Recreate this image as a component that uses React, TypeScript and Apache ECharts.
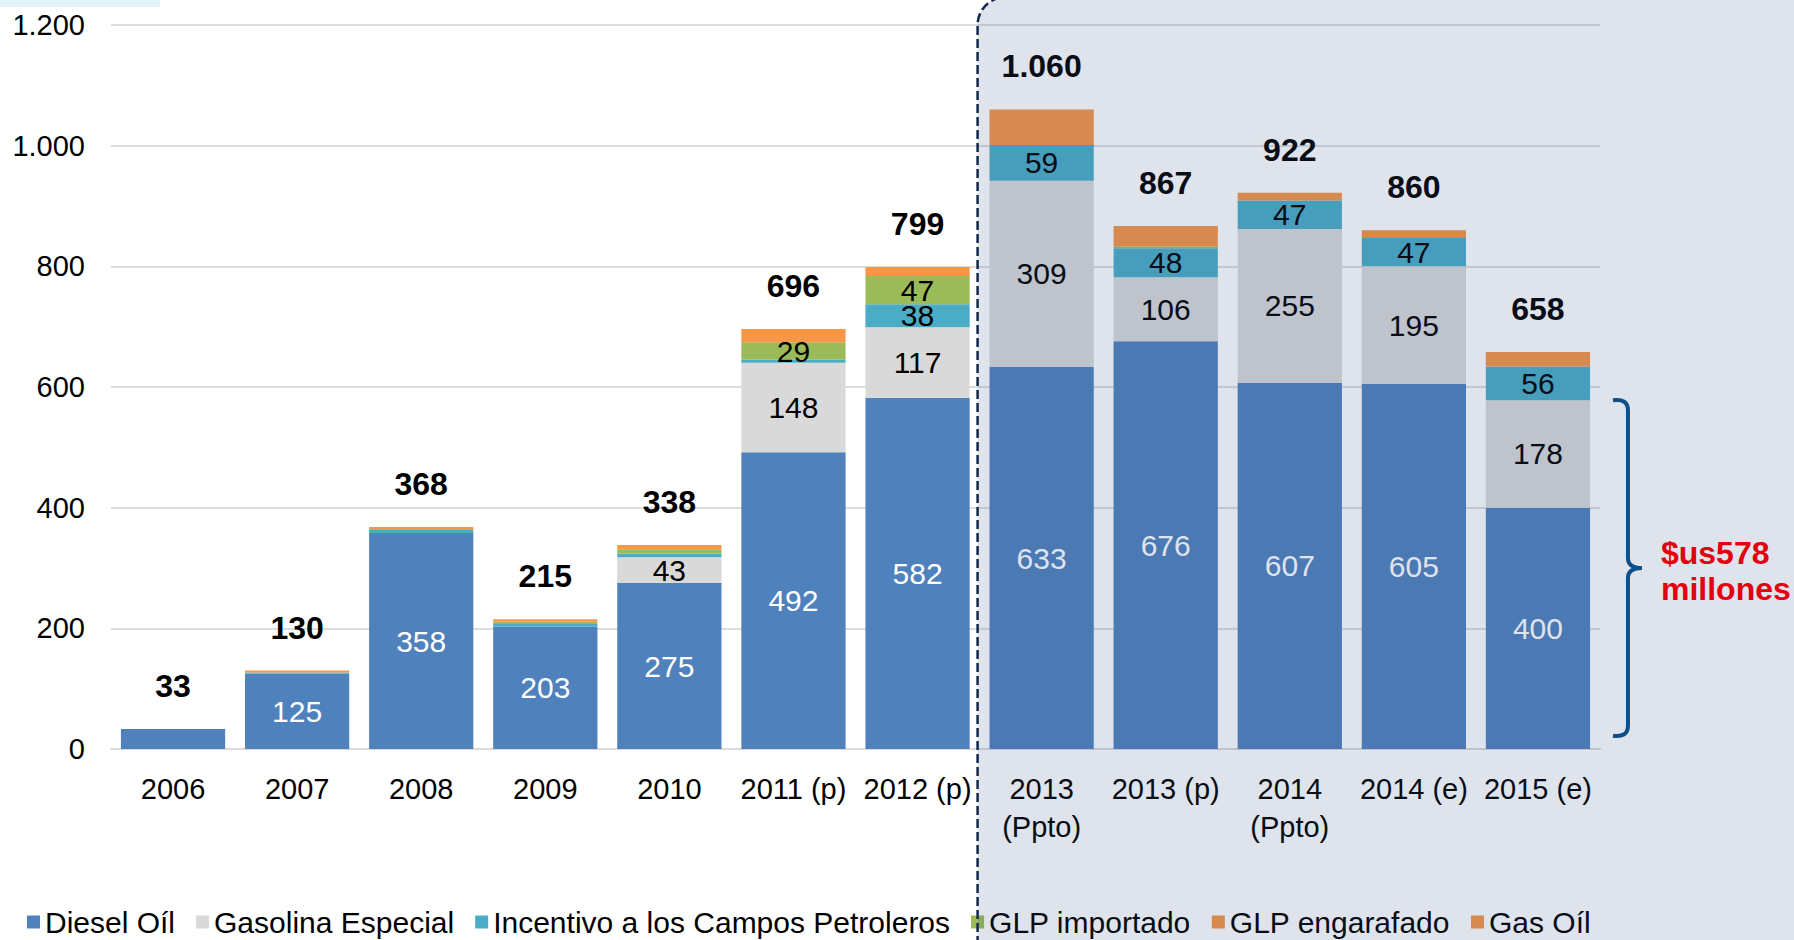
import React, { useEffect, useRef } from 'react';
import * as echarts from 'echarts';

const categories = ['2006', '2007', '2008', '2009', '2010', '2011 (p)', '2012 (p)', '2013\n(Ppto)', '2013 (p)', '2014\n(Ppto)', '2014 (e)', '2015 (e)'];
const dieselOil = [33, 125, 358, 203, 275, 492, 582, 633, 676, 607, 605, 400];
const gasolinaEspecial = [0, 0, 0, 0, 43, 148, 117, 309, 106, 255, 195, 178];
const incentivoCampos = [0, 2, 5, 4, 6, 5, 38, 59, 48, 47, 47, 56];
const glpImportado = [0, 0, 0, 4, 7, 29, 47, 0, 3, 0, 0, 0];
const glpEngarafado = [0, 3, 5, 4, 7, 22, 15, 59, 34, 13, 13, 24];
const gasOil = [0, 0, 0, 0, 0, 0, 0, 0, 0, 0, 0, 0];
const totals = [33, 130, 368, 215, 338, 696, 799, 1060, 867, 922, 860, 658];
const seriesNames = ['Diesel Oíl', 'Gasolina Especial', 'Incentivo a los Campos Petroleros', 'GLP importado', 'GLP engarafado', 'Gas Oíl'];
const annotationText = '$us578\nmillones';

const FONT = "'Liberation Sans', Arial, sans-serif";

const fmt = (n: number) =>
  n >= 1000 ? Math.floor(n / 1000) + '.' + String(n % 1000).padStart(3, '0') : String(n);

export default function App() {
  const ref = useRef<HTMLDivElement>(null);

  useEffect(() => {
    if (!ref.current) return;
    const chart = echarts.init(ref.current, null, { renderer: 'svg' });

    const mk = (name: string, data: number[], color: string, threshold: number | null, labelColor: string) => ({
      name,
      type: 'bar',
      stack: 'total',
      data,
      barCategoryGap: '16%',
      itemStyle: { color },
      label: {
        show: threshold !== null,
        position: 'inside',
        color: labelColor,
        fontSize: 30,
        fontFamily: FONT,
        formatter: (p: any) => (threshold !== null && p.value >= threshold ? fmt(p.value) : ''),
      },
    });

    const option: any = {
      animation: false,
      backgroundColor: '#ffffff',
      textStyle: { fontFamily: FONT },
      grid: { left: 111, right: 194, top: 25, bottom: 191 },
      legend: {
        data: seriesNames,
        left: 22,
        top: 902,
        itemWidth: 13,
        itemHeight: 13,
        itemGap: 21,
        icon: 'rect',
        textStyle: { fontSize: 30, color: '#000', fontFamily: FONT },
      },
      xAxis: {
        type: 'category',
        data: categories,
        axisTick: { show: false },
        axisLine: { lineStyle: { color: '#D9D9D9', width: 2 } },
        axisLabel: { fontSize: 29, color: '#000', margin: 21, lineHeight: 38, fontFamily: FONT, interval: 0 },
      },
      yAxis: {
        type: 'value',
        min: 0,
        max: 1200,
        interval: 200,
        axisLine: { show: false },
        axisTick: { show: false },
        splitLine: { lineStyle: { color: '#DDDDDD', width: 2 } },
        axisLabel: { fontSize: 29, color: '#000', margin: 26, fontFamily: FONT, formatter: (v: number) => fmt(v) },
      },
      series: [
        mk(seriesNames[0], dieselOil, '#4F81BD', 100, '#ffffff'),
        mk(seriesNames[1], gasolinaEspecial, '#D9D9D9', 20, '#000000'),
        mk(seriesNames[2], incentivoCampos, '#4BACC6', 20, '#000000'),
        mk(seriesNames[3], glpImportado, '#9BBB59', 20, '#000000'),
        mk(seriesNames[4], glpEngarafado, '#F79646', null, '#000000'),
        mk(seriesNames[5], gasOil, '#F79646', null, '#000000'),
        {
          name: 'Total',
          type: 'bar',
          stack: 'total',
          data: totals.map(() => 0),
          itemStyle: { color: 'transparent' },
          label: {
            show: true,
            position: 'top',
            distance: 27,
            fontSize: 32,
            fontWeight: 'bold',
            color: '#000',
            fontFamily: FONT,
            formatter: (p: any) => fmt(totals[p.dataIndex]),
          },
        },
      ],
    };
    chart.setOption(option);

    // annotation positions derived from the axes
    const last = categories.length - 1;
    const bracketTopVal = dieselOil[last] + gasolinaEspecial[last];
    const xc = chart.convertToPixel({ xAxisIndex: 0 }, last) as number;
    const yTop = chart.convertToPixel({ yAxisIndex: 0 }, bracketTopVal) as number;
    const yBot = chart.convertToPixel({ yAxisIndex: 0 }, 22) as number;
    const yMid = (yTop + yBot) / 2;
    const bx = xc + 90;
    const d =
      `M ${bx - 15} ${yTop} Q ${bx} ${yTop - 2} ${bx} ${yTop + 10} ` +
      `L ${bx} ${yMid - 10} Q ${bx} ${yMid} ${bx + 14} ${yMid} ` +
      `M ${bx + 14} ${yMid} Q ${bx} ${yMid} ${bx} ${yMid + 10} ` +
      `L ${bx} ${yBot - 10} Q ${bx} ${yBot + 2} ${bx - 15} ${yBot}`;
    echarts.graphic.registerShape('brace', echarts.graphic.extendPath(d, {}) as any);

    const xDash = ((chart.convertToPixel({ xAxisIndex: 0 }, 6) as number) + (chart.convertToPixel({ xAxisIndex: 0 }, 7) as number)) / 2;

    chart.setOption({
      graphic: [
        {
          type: 'rect',
          z: 1,
          silent: true,
          shape: { x: 0, y: 0, width: 160, height: 7 },
          style: { fill: '#E4F3F9' },
        },
        {
          type: 'rect',
          z: 100,
          silent: true,
          shape: { x: xDash - 2, y: -3, width: 1000, height: 1100, r: [28, 0, 0, 0] },
          style: { fill: 'rgba(52,78,135,0.16)', stroke: '#13294B', lineWidth: 2.5, lineDash: [9, 4] },
        },
        {
          type: 'brace',
          z: 110,
          silent: true,
          style: { fill: 'none', stroke: '#0B4F8C', lineWidth: 4 },
        },
        {
          type: 'text',
          z: 110,
          silent: true,
          x: bx + 33,
          y: yMid + 3,
          style: {
            text: annotationText,
            fill: '#E3000F',
            font: `bold 32px ${FONT}`,
            lineHeight: 36,
            verticalAlign: 'middle',
            align: 'left',
          },
        },
      ],
    });

    return () => chart.dispose();
  }, []);

  return (
    <div
      ref={ref}
      style={{ position: 'fixed', left: 0, top: 0, width: 1794, height: 940 }}
    />
  );
}
